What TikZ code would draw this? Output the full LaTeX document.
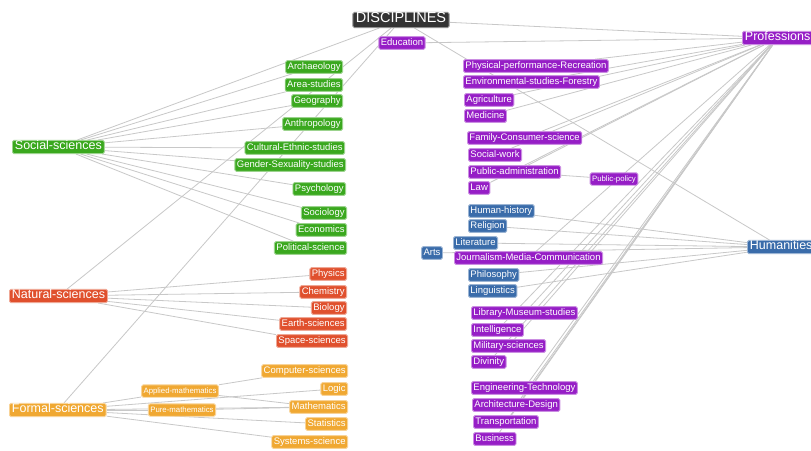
\documentclass[tikz,border=0pt]{standalone}
\usepackage{fontspec}
\setmainfont{Liberation Sans}
\usetikzlibrary{backgrounds}
\definecolor{cdark}{RGB}{51,51,51}
\definecolor{cpurp}{RGB}{150,30,198}
\definecolor{cblue}{RGB}{58,108,170}
\definecolor{cgreen}{RGB}{58,168,30}
\definecolor{cred}{RGB}{224,80,45}
\definecolor{corange}{RGB}{240,168,50}
\definecolor{cedge}{RGB}{200,200,200}
\tikzset{
 box/.style={text=white, rounded corners=1.5pt, inner xsep=2pt, inner ysep=1.8pt,
   text height=0.72em, text depth=0.2em, font=\fontsize{9.5}{11}\selectfont, line width=0.9pt},
 bigbox/.style={box, font=\fontsize{12.5}{14}\selectfont, inner xsep=2.5pt, inner ysep=2pt},
 smallbox/.style={box, font=\fontsize{7.8}{9}\selectfont, inner ysep=1.6pt},
 dk/.style={fill=cdark, draw=cdark!55},
 gn/.style={fill=cgreen, draw=cgreen!50},
 rd/.style={fill=cred, draw=cred!50},
 og/.style={fill=corange, draw=corange!50},
 pp/.style={fill=cpurp, draw=cpurp!50},
 bl/.style={fill=cblue, draw=cblue!50},
 link/.style={draw=cedge, line width=0.8pt}
}
\begin{document}
\begin{tikzpicture}[x=1pt,y=-1pt]
\useasboundingbox (0,0) rectangle (811,450);
% roots
\node[box,dk,font=\fontsize{14.5}{16}\selectfont,inner xsep=3pt,inner ysep=3pt] (d) at (401,20) {DISCIPLINES};
\node[bigbox,gn,anchor=west] (soc) at (12,147) {Social-sciences};
\node[bigbox,rd,anchor=west] (nat) at (9,296) {Natural-sciences};
\node[bigbox,og,anchor=west] (for) at (9,410) {Formal-sciences};
\node[bigbox,pp,anchor=west] (pro) at (742,38) {Professions};
\node[bigbox,bl,anchor=west] (hum) at (747,247) {Humanities};
% social
\node[box,gn,anchor=east] (arch) at (343,67) {Archaeology};
\node[box,gn,anchor=east] (area) at (343,85) {Area-studies};
\node[box,gn,anchor=east] (geo) at (343,101) {Geography};
\node[box,gn,anchor=east] (anth) at (343,124) {Anthropology};
\node[box,gn,anchor=east] (cult) at (345,148) {Cultural-Ethnic-studies};
\node[box,gn,anchor=east] (gend) at (346,165) {Gender-Sexuality-studies};
\node[box,gn,anchor=east] (psy) at (346,189) {Psychology};
\node[box,gn,anchor=east] (soci) at (347,213) {Sociology};
\node[box,gn,anchor=east] (eco) at (347,230) {Economics};
\node[box,gn,anchor=east] (pol) at (347,248) {Political-science};
% natural
\node[box,rd,anchor=east] (phy) at (347,274) {Physics};
\node[box,rd,anchor=east] (che) at (347,292) {Chemistry};
\node[box,rd,anchor=east] (bio) at (347,308) {Biology};
\node[box,rd,anchor=east] (ear) at (347,324) {Earth-sciences};
\node[box,rd,anchor=east] (spa) at (348,341) {Space-sciences};
% formal
\node[box,og,anchor=east] (com) at (348,371) {Computer-sciences};
\node[box,og,anchor=east] (log) at (348,389) {Logic};
\node[box,og,anchor=east] (mat) at (348,407) {Mathematics};
\node[box,og,anchor=east] (sta) at (348,424) {Statistics};
\node[box,og,anchor=east] (sys) at (348,442) {Systems-science};
\node[smallbox,og] (app) at (180,391) {Applied-mathematics};
\node[smallbox,og] (pur) at (182,410) {Pure-mathematics};
% professions
\node[box,pp] (edu) at (402,43) {Education};
\node[box,pp,anchor=west] (phr) at (463,66) {Physical-performance-Recreation};
\node[box,pp,anchor=west] (env) at (463,82) {Environmental-studies-Forestry};
\node[box,pp,anchor=west] (agr) at (464,100) {Agriculture};
\node[box,pp,anchor=west] (med) at (464,116) {Medicine};
\node[box,pp,anchor=west] (fam) at (467,138) {Family-Consumer-science};
\node[box,pp,anchor=west] (swk) at (468,155) {Social-work};
\node[box,pp,anchor=west] (pad) at (468,172) {Public-administration};
\node[box,pp,anchor=west] (law) at (468,188) {Law};
\node[smallbox,pp] (ppo) at (614,179) {Public-policy};
\node[box,pp,anchor=west] (jmc) at (454,258) {Journalism-Media-Communication};
\node[box,pp,anchor=west] (lib) at (471,313) {Library-Museum-studies};
\node[box,pp,anchor=west] (int) at (471,330) {Intelligence};
\node[box,pp,anchor=west] (mil) at (471,346) {Military-sciences};
\node[box,pp,anchor=west] (div) at (471,362) {Divinity};
\node[box,pp,anchor=west] (eng) at (471,388) {Engineering-Technology};
\node[box,pp,anchor=west] (arc) at (472,405) {Architecture-Design};
\node[box,pp,anchor=west] (tra) at (473,422) {Transportation};
\node[box,pp,anchor=west] (bus) at (473,439) {Business};
% humanities
\node[box,bl,anchor=west] (his) at (468,211) {Human-history};
\node[box,bl,anchor=west] (rel) at (468,226) {Religion};
\node[box,bl,anchor=west] (lit) at (453,243) {Literature};
\node[box,bl] (arts) at (432,253) {Arts};
\node[box,bl,anchor=west] (phi) at (468,275) {Philosophy};
\node[box,bl,anchor=west] (lin) at (468,291) {Linguistics};
\begin{pgfonlayer}{background}
\fill[white] (0,0) rectangle (811,450);
\foreach \t in {soc,nat,for,pro,hum} \draw[link] (d) -- (\t);
\draw[link] (edu) -- (pro);
\foreach \t in {arch,area,geo,anth,cult,gend,psy,soci,eco,pol} \draw[link] (soc) -- (\t);
\foreach \t in {phy,che,bio,ear,spa} \draw[link] (nat) -- (\t);
\foreach \t in {app,pur,log,mat,sta,sys} \draw[link] (for) -- (\t);
\draw[link] (app) -- (com);
\draw[link] (app) -- (mat);
\draw[link] (pur) -- (mat);
\foreach \t in {phr,env,agr,med,fam,swk,pad,law,jmc,lib,int,mil,div,eng,arc,tra,bus} \draw[link] (pro) -- (\t);
\draw[link] (pad) -- (ppo);
\foreach \t in {his,rel,lit,arts,phi,lin} \draw[link] (hum) -- (\t);
\end{pgfonlayer}
\end{tikzpicture}
\end{document}
